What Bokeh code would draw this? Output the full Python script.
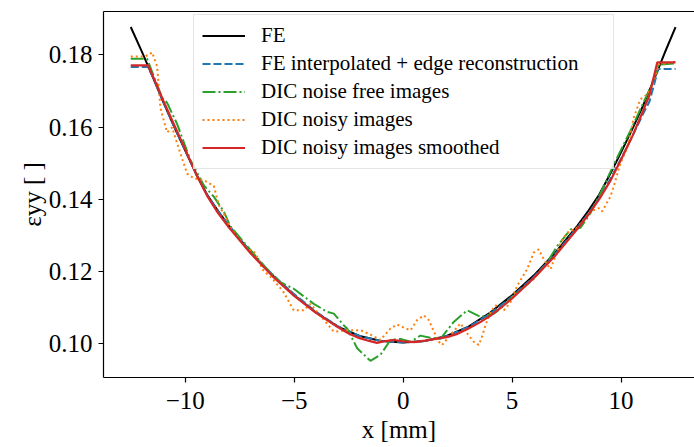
from bokeh.plotting import figure
from bokeh.models import (LinearAxis, FixedTicker, Legend, LegendItem,
                          CustomJSTickFormatter, NumeralTickFormatter)
from bokeh.embed import file_html
from bokeh.resources import INLINE

# ---------------- data ----------------
x_fe = [-12.5, -12.0, -11.5, -11.0, -10.5, -10.0, -9.5, -9.0, -8.5, -8.0, -7.0, -6.0, -5.0,
        -4.0, -3.0, -2.0, -1.0, 0.0, 1.0, 2.0, 3.0, 4.0, 5.0, 6.0, 7.0, 8.0, 8.5, 9.0,
        9.5, 10.0, 10.5, 11.0, 11.5, 12.0, 12.5]
y_fe = [0.1877, 0.1810, 0.1740, 0.1668, 0.1600, 0.1535, 0.1470, 0.1413, 0.1368, 0.1327,
        0.1253, 0.1189, 0.1134, 0.1086, 0.1047, 0.1021, 0.1007, 0.1003, 0.1007, 0.1021,
        0.1047, 0.1086, 0.1134, 0.1189, 0.1253, 0.1327, 0.1368, 0.1413, 0.1470, 0.1530,
        0.1592, 0.1658, 0.1730, 0.1805, 0.1877]

x_interp = [-12.5, -11.7, -11.5, -11.0, -10.5, -10.0, -9.5, -9.0, -8.5, -8.0, -7.0, -6.0,
            -5.0, -4.0, -3.0, -2.0, -1.0, 0.0, 1.0, 2.0, 3.0, 4.0, 5.0, 6.0, 7.0, 8.0, 8.5,
            9.0, 9.5, 10.0, 10.5, 11.0, 11.3, 11.58, 11.7, 12.5]
y_interp = [0.1766, 0.1766, 0.1740, 0.1668, 0.1600, 0.1535, 0.1470, 0.1413, 0.1368, 0.1327,
            0.1254, 0.1191, 0.1137, 0.1088, 0.1048, 0.1021, 0.1007, 0.1003, 0.1007, 0.1021,
            0.1046, 0.1083, 0.1130, 0.1185, 0.1250, 0.1322, 0.1360, 0.1403, 0.1455, 0.1512,
            0.1572, 0.1635, 0.1670, 0.1732, 0.1761, 0.1761]

x_free = [-12.5, -11.75, -11.06, -10.83, -10.37, -9.76, -9.15, -8.69, -8.23, -7.93, -7.16,
          -6.24, -5.63, -5.02, -4.41, -4.10, -3.49, -3.18, -2.73, -2.57, -2.11, -1.50, -1.04,
          -0.58, -0.12, 0.34, 0.79, 1.25, 1.71, 2.32, 2.94, 3.55, 4.16, 4.47, 5.08, 5.99,
          6.61, 7.07, 7.68, 8.14, 8.60, 9.05, 9.70, 10.43, 11.35, 11.73, 12.5]
y_free = [0.1789, 0.1789, 0.1681, 0.1667, 0.1608, 0.1508, 0.1439, 0.1407, 0.1366, 0.1325,
          0.1270, 0.1206, 0.1170, 0.1152, 0.1124, 0.1110, 0.1088, 0.1083, 0.1051, 0.1042,
          0.0987, 0.0952, 0.0969, 0.1010, 0.1013, 0.1005, 0.1022, 0.1016, 0.1013, 0.1060,
          0.1092, 0.1074, 0.1083, 0.1097, 0.1133, 0.1179, 0.1225, 0.1270, 0.1316, 0.1321,
          0.1362, 0.1416, 0.1500, 0.1590, 0.1709, 0.1773, 0.1776]

x_noisy = [-12.5, -11.9, -11.67, -11.52, -11.29, -11.21, -11.14, -10.98, -10.83, -10.6,
           -10.22, -9.91, -9.61, -9.15, -8.69, -8.46, -8.16, -7.93, -7.16, -6.86, -6.63,
           -6.47, -6.0, -5.48, -5.02, -4.56, -4.25, -3.95, -3.18, -2.57, -1.96, -1.5, -1.04,
           -0.58, -0.28, 0.11, 0.34, 0.64, 0.95, 1.18, 1.41, 1.64, 1.79, 2.17, 2.63, 2.94,
           3.24, 3.47, 3.62, 3.78, 4.01, 4.24, 4.62, 4.93, 5.23, 5.69, 5.99, 6.22, 6.45,
           6.76, 7.22, 7.53, 7.99, 8.6, 8.98, 9.13, 9.51, 9.66, 9.97, 10.28, 10.43, 10.58,
           10.89, 11.2, 11.43, 11.73, 12.5]
y_noisy = [0.1795, 0.1795, 0.1800, 0.1807, 0.1768, 0.1708, 0.1654, 0.1617, 0.1585, 0.1599,
           0.1526, 0.1471, 0.1458, 0.1453, 0.1437, 0.1384, 0.1352, 0.1321, 0.1261, 0.1256,
           0.1234, 0.1206, 0.1180, 0.1142, 0.1092, 0.1092, 0.1110, 0.1088, 0.1033, 0.1037,
           0.1037, 0.1025, 0.1010, 0.1042, 0.1053, 0.1042, 0.1037, 0.1065, 0.1078, 0.1065,
           0.1033, 0.1005, 0.0996, 0.1024, 0.1056, 0.1028, 0.1005, 0.0996, 0.1019, 0.1051,
           0.1088, 0.1106, 0.1092, 0.1115, 0.1160, 0.1206, 0.1252, 0.1261, 0.1234, 0.1206,
           0.1279, 0.1307, 0.1321, 0.1366, 0.1375, 0.1366, 0.1407, 0.1435, 0.1499, 0.1544,
           0.1581, 0.1626, 0.1677, 0.1690, 0.1713, 0.1773, 0.1781]

x_smooth = [-12.5, -11.7, -11.0, -10.5, -10.0, -9.5, -9.0, -8.5, -8.0, -7.0, -6.0, -5.0, -4.0,
            -3.0, -2.5, -2.0, -1.6, -1.2, -0.8, -0.4, 0.0, 0.5, 1.0, 1.5, 2.0, 2.5, 3.0, 3.5,
            4.0, 4.5, 5.0, 6.0, 7.0, 8.0, 8.5, 9.0, 9.5, 10.0, 10.5, 11.0, 11.3, 11.66, 12.5]
y_smooth = [0.1771, 0.1771, 0.1672, 0.1605, 0.1538, 0.1470, 0.1410, 0.1362, 0.1322, 0.1250,
            0.1187, 0.1132, 0.1085, 0.1046, 0.1028, 0.1015, 0.1008, 0.1002, 0.1007, 0.1010,
            0.1006, 0.1004, 0.1008, 0.1013, 0.1018, 0.1027, 0.1042, 0.1058, 0.1077, 0.1100,
            0.1125, 0.1182, 0.1245, 0.1318, 0.1357, 0.1400, 0.1450, 0.1510, 0.1572, 0.1643,
            0.1688, 0.1779, 0.1779]

series_labels = ["FE", "FE interpolated + edge reconstruction", "DIC noise free images",
                 "DIC noisy images", "DIC noisy images smoothed"]
x_ticks = [-10, -5, 0, 5, 10]
y_ticks = [0.10, 0.12, 0.14, 0.16, 0.18]
x_title = "x [mm]"
y_title = "\u03b5yy [ ]"

SERIF = "Liberation Serif"

p = figure(width=694, height=445, x_range=(-13.75, 13.37), y_range=(0.0906, 0.1920),
           output_backend="svg", toolbar_location=None,
           min_border_left=103, min_border_right=0, min_border_top=11, min_border_bottom=66)
p.outline_line_color = None
p.xgrid.visible = False
p.ygrid.visible = False
p.background_fill_color = "white"
p.border_fill_color = "white"

for ax in (p.xaxis[0], p.yaxis[0]):
    ax.axis_line_color = "black"
    ax.axis_line_width = 1.2
    ax.major_tick_line_color = "black"
    ax.major_tick_line_width = 1.2
    ax.major_tick_out = 5
    ax.major_tick_in = 0
    ax.minor_tick_out = 0
    ax.minor_tick_in = 0
    ax.major_label_text_font = SERIF
    ax.major_label_text_font_size = "25px"
    ax.major_label_text_color = "black"
    ax.axis_label_text_font = SERIF
    ax.axis_label_text_font_size = "25px"
    ax.axis_label_text_font_style = "normal"
    ax.axis_label_text_color = "black"

p.xaxis[0].ticker = FixedTicker(ticks=x_ticks)
p.xaxis[0].formatter = CustomJSTickFormatter(
    code="return tick < 0 ? '\u2212' + Math.abs(tick) : String(tick);")
p.xaxis[0].major_label_standoff = 9
p.xaxis[0].axis_label = x_title
p.xaxis[0].axis_label_standoff = 4

p.yaxis[0].ticker = FixedTicker(ticks=y_ticks)
p.yaxis[0].formatter = NumeralTickFormatter(format="0.00")
p.yaxis[0].major_label_standoff = 6
p.yaxis[0].axis_label = y_title
p.yaxis[0].axis_label_standoff = 0

top = LinearAxis(ticker=FixedTicker(ticks=[]), axis_line_color="black", axis_line_width=1.2,
                 major_tick_out=0, major_tick_in=0, minor_tick_out=0, minor_tick_in=0,
                 major_label_standoff=0, axis_label_standoff=0,
                 major_label_text_font_size="0px")
p.add_layout(top, "above")

r_fe = p.line(x_fe, y_fe, line_color="black", line_width=2)
r_in = p.line(x_interp, y_interp, line_color="#1f77b4", line_width=2, line_dash="8 3")
r_fr = p.line(x_free, y_free, line_color="#2ca02c", line_width=2, line_dash="13 3 2 3")
r_no = p.line(x_noisy, y_noisy, line_color="#ff7f0e", line_width=2, line_dash="2 3")
r_sm = p.line(x_smooth, y_smooth, line_color="#d62728", line_width=2.2)

legend = Legend(items=[LegendItem(label=l, renderers=[r]) for l, r in
                       zip(series_labels, [r_fe, r_in, r_fr, r_no, r_sm])],
                location=(90, 208), orientation="vertical",
                border_line_color="#cccccc", border_line_width=1,
                background_fill_color="white", background_fill_alpha=0.8,
                padding=8, spacing=3, margin=0,
                glyph_width=43, glyph_height=25, label_height=25, label_width=344,
                label_standoff=16, label_text_font=SERIF, label_text_font_size="21px",
                label_text_color="black")
p.add_layout(legend)

open("out.html", "w").write(file_html(p, INLINE))
